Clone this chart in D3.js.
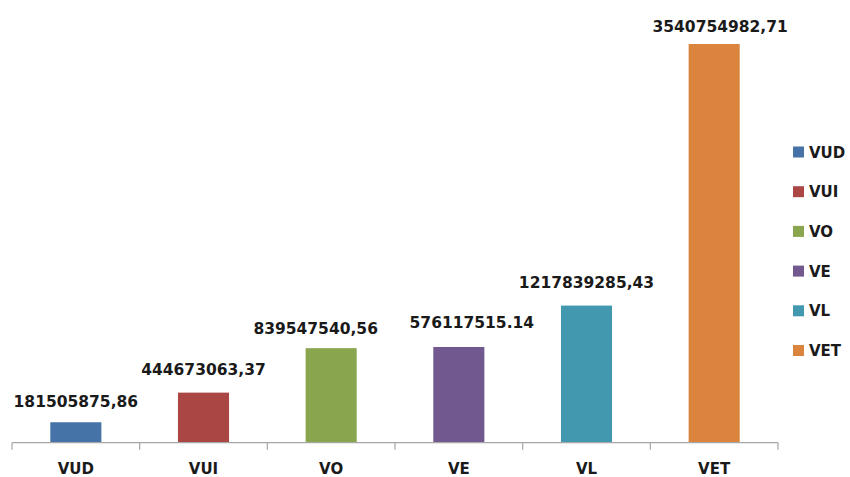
<!DOCTYPE html>
<html><head><meta charset="utf-8">
<script src="https://cdn.jsdelivr.net/npm/d3@7"></script>
<style>body{margin:0;background:#fff}svg{display:block}</style>
</head><body>
<svg id="c" width="850" height="477"></svg>
<script>
const categories = ["VUD","VUI","VO","VE","VL","VET"];
const values = [181505875.86, 444673063.37, 839547540.56, 850000000, 1217839285.43, 3540754982.71];
const valueLabels = ["181505875,86","444673063,37","839547540,56","576117515.14","1217839285,43","3540754982,71"];
const colors = ["#4572A7","#AA4643","#89A54E","#71588F","#4198AF","#DB843D"];

const svg = d3.select("#c");
const font = "'DejaVu Sans', sans-serif";
const x = d3.scaleBand().domain(categories).range([12, 778]).paddingInner(0.6).paddingOuter(0.3);
const y = d3.scaleLinear().domain([0, d3.max(values)]).range([442.7, 44]);

svg.selectAll("rect.bar").data(categories).join("rect").attr("class","bar")
  .attr("x", d => x(d)).attr("width", x.bandwidth())
  .attr("y", (d,i) => y(values[i])).attr("height", (d,i) => y(0) - y(values[i]))
  .attr("fill", (d,i) => colors[i]);

// axis
const ax = svg.append("g").attr("transform", "translate(0,442.7)");
ax.append("line").attr("x1", 12).attr("x2", 778).attr("stroke", "#a6a6a6").attr("stroke-width", 1.2);
const step = x.step();
const edges = d3.range(categories.length + 1).map(i => 12 + i * step);
ax.selectAll("line.tick").data(edges).join("line").attr("class","tick")
  .attr("x1", d => d).attr("x2", d => d).attr("y1", 0).attr("y2", 7)
  .attr("stroke", "#a6a6a6").attr("stroke-width", 1.2);
svg.selectAll("text.cat").data(categories).join("text").attr("class","cat")
  .attr("x", d => x(d) + x.bandwidth()/2).attr("y", 474)
  .attr("text-anchor","middle").attr("font-family", font).attr("font-weight","bold")
  .attr("font-size", 15).attr("fill", "#1a1a1a").text(d => d);

// value labels (manual label placement as in the original: [dx, gap above bar])
const labelPlacement = [[0,15.7],[0,18],[-15.5,14],[13,18.7],[0,17.7],[6,12.3]];
svg.selectAll("text.val").data(categories).join("text").attr("class","val")
  .attr("x", (d,i) => x(d) + x.bandwidth()/2 + labelPlacement[i][0])
  .attr("y", (d,i) => y(values[i]) - labelPlacement[i][1])
  .attr("text-anchor","middle").attr("font-family", font).attr("font-weight","bold")
  .attr("font-size", 15.5).attr("fill", "#1a1a1a").text((d,i) => valueLabels[i]);

// legend
const lg = svg.append("g").attr("transform", "translate(793,152)");
const rows = lg.selectAll("g").data(categories).join("g")
  .attr("transform", (d,i) => `translate(0,${i*39.7})`);
rows.append("rect").attr("x", 0).attr("y", -5.5).attr("width", 11).attr("height", 11)
  .attr("fill", (d,i) => colors[i]);
rows.append("text").attr("x", 16).attr("y", 5.5).attr("font-family", font)
  .attr("font-weight","bold").attr("font-size", 15).attr("fill", "#1a1a1a").text(d => d);
</script>
</body></html>
